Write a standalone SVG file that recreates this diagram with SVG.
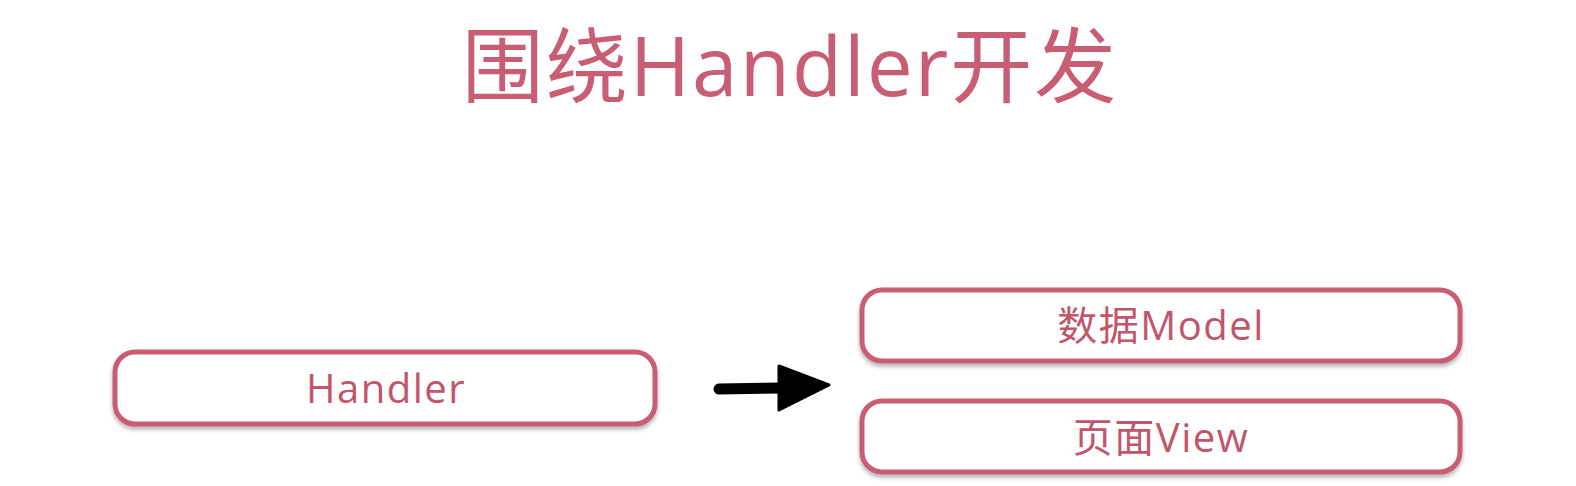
<svg xmlns="http://www.w3.org/2000/svg" width="1576" height="486" viewBox="0 0 1576 486">
<defs>
<filter id="sh" x="-5%" y="-20%" width="110%" height="150%">
<feDropShadow dx="0" dy="3" stdDeviation="2" flood-color="#000" flood-opacity="0.3"/>
</filter>
<style>
.box{fill:#fff;stroke:#c95d73;stroke-width:5;filter:url(#sh)}
.lbl{fill:#c0566c;font-family:"Open Sans","Noto Sans CJK SC",sans-serif;font-size:40px;letter-spacing:1.5px;text-anchor:middle}
.title{fill:#c95d73;font-family:"Open Sans","Noto Sans CJK SC",sans-serif;font-size:82px;letter-spacing:2px;text-anchor:middle}
</style>
</defs>
<rect width="1576" height="486" fill="#fff"/>
<text class="title" x="790" y="96">围绕Handler开发</text>
<g id="handler">
<rect class="box" x="115" y="352" width="540" height="72" rx="20"/>
<text class="lbl" x="386" y="403">Handler</text>
</g>
<g id="model">
<rect class="box" x="862" y="290" width="598" height="71" rx="20"/>
<text class="lbl" x="1161" y="340">数据Model</text>
</g>
<g id="view">
<rect class="box" x="862" y="401" width="598" height="71" rx="20"/>
<text class="lbl" x="1161" y="452">页面View</text>
</g>
<g id="connectors">
<line x1="719" y1="389" x2="785" y2="388" stroke="#000" stroke-width="11" stroke-linecap="round"/>
<polygon points="779,366 829,385 779,410" fill="#000" stroke="#000" stroke-width="3" stroke-linejoin="round"/>
</g>
</svg>
